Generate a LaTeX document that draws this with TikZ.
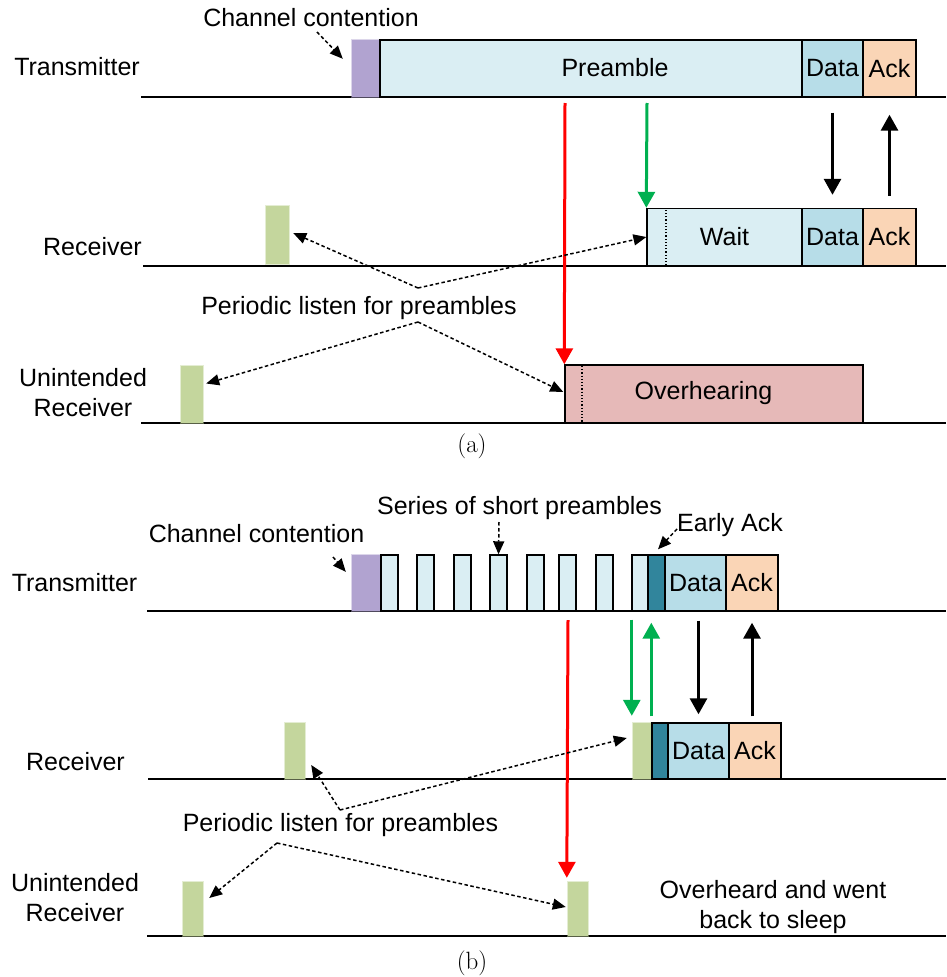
\documentclass[tikz,border=0pt]{standalone}
\usepackage{fontspec}
\setsansfont{Liberation Sans}
\usetikzlibrary{arrows.meta,calc}
\definecolor{ccpurple}{HTML}{B1A3D0}
\definecolor{prefill}{HTML}{DAEEF3}
\definecolor{datafill}{HTML}{B7DDE8}
\definecolor{ackfill}{HTML}{FAD5B6}
\definecolor{listen}{HTML}{C4D69D}
\definecolor{ovhfill}{HTML}{E6B9B8}
\definecolor{eackfill}{HTML}{31859C}
\definecolor{siggreen}{HTML}{00B050}
\definecolor{sigred}{HTML}{FF0000}
\tikzset{
  txt/.style={font=\sffamily\fontsize{25}{30}\selectfont, inner sep=0pt, align=center},
  captxt/.style={font=\rmfamily\fontsize{25}{28}\selectfont, inner sep=0pt},
  sz/.style 2 args={minimum width=#1pt, minimum height=#2pt},
  slot/.style={draw=black, line width=1.4pt, inner sep=0pt, anchor=center,
               font=\sffamily\fontsize{25}{30}\selectfont},
  soft/.style={fill=#1, draw=#1, draw opacity=0.45, line width=2.4pt, inner sep=0pt},
  timeline/.style={line width=1.8pt},
  sig/.style={line width=3pt, -{Triangle[length=16pt,width=17pt]}},
  hint/.style={line width=1.5pt, dash pattern=on 3.5pt off 2.5pt, -{Triangle[length=13pt,width=11pt]}},
}
\begin{document}
\begin{tikzpicture}[x=1pt,y=-1pt]
\useasboundingbox (0,0) rectangle (946,977);

%% ---------------- (a) long preamble ----------------
% timelines
\draw[timeline] (141,97) -- (946,97);
\draw[timeline] (143,266) -- (946,266);
\draw[timeline] (141,423) -- (946,423);

% row labels
\node[txt] (txA) at (77,67) {Transmitter};
\node[txt] (rxA) at (92.5,247) {Receiver};
\node[txt] (urA) at (83,393) {Unintended\\Receiver};

% transmitter
\node[soft=ccpurple, sz={28}{57}] (ccA) at (366,68.5) {};
\node[slot, fill=prefill, sz={422}{57}] (preA) at (591,68.5) {};
\node[txt] (preAt) at (615,68) {Preamble};
\node[slot, fill=datafill, sz={61}{57}] (datTA) at (832.5,68.5) {Data};
\node[slot, fill=ackfill, sz={53}{57}] (ackTA) at (889.5,68.5) {Ack};

% receiver
\node[soft=listen, sz={23}{58}] (lsnRA) at (277.5,235) {};
\node[slot, fill=prefill, sz={155}{57}] (waitA) at (724.5,237) {Wait};
\node[draw, dotted, line width=1.2pt, inner sep=0pt, sz={19}{57}] (wdotA) at (656.5,237) {};
\node[slot, fill=datafill, sz={61}{57}] (datRA) at (832.5,237) {Data};
\node[slot, fill=ackfill, sz={53}{57}] (ackRA) at (889.5,237) {Ack};

% unintended receiver
\node[soft=listen, sz={22}{57}] (lsnUA) at (192,394.5) {};
\node[slot, fill=ovhfill, sz={298}{58}] (ovhA) at (714,394) {};
\draw[dotted, line width=1.2pt] (582,366) -- (582,422);
\node[txt] (ovhAt) at (703.5,393) {Overhearing};

% signals
\coordinate (redA0) at (565,103);
\draw[sig, sigred] (redA0) -- (ovhA.north west);
\coordinate (grnA0) at (647,103);
\draw[sig, siggreen] (grnA0) -- (waitA.north west);
\draw[sig] ($(datTA.south)+(0,15)$) -- ($(datRA.north)+(0,-13)$);
\draw[sig] ($(ackRA.north)+(0,-12)$) -- ($(ackTA.south)+(0,17)$);

% annotations
\node[txt] (ccAt) at (311,18) {Channel contention};
\coordinate (ccA0) at (317,32);
\draw[hint] (ccA0) -- ($(ccA.north west)+(-8,20)$);

\node[txt] (perA) at (359,308) {Periodic listen for preambles};
\coordinate (jA1) at (418,288);
\coordinate (jA2) at (418,322);
\draw[hint] (jA1) -- ($(lsnRA.east)+(3,-2)$);
\draw[hint] (jA1) -- (wdotA.west);
\draw[hint] (jA2) -- ($(lsnUA.east)+(2,-11)$);
\draw[hint] (jA2) -- ($(ovhA.west)+(-1,-2)$);

\node[captxt] (capA) at (472,446) {(a)};

%% ---------------- (b) short preambles ----------------
\draw[timeline] (147,611) -- (946,611);
\draw[timeline] (148,779) -- (946,779);
\draw[timeline] (147,936) -- (946,936);

\node[txt] (txB) at (74.5,583) {Transmitter};
\node[txt] (rxB) at (75.5,762) {Receiver};
\node[txt] (urB) at (75,898) {Unintended\\Receiver};

% transmitter
\node[soft=ccpurple, sz={29}{56}] (ccB) at (366.5,583) {};
\foreach \xl [count=\i] in {381,417,454,490,527,559,596,632}
  \node[slot, fill=prefill, sz={17}{56}] (sp\i) at (\xl+8.5,583) {};
\node[slot, fill=eackfill, sz={17}{56}] (eackTB) at (656.5,583) {};
\node[slot, fill=datafill, sz={61}{56}] (datTB) at (695.5,583) {Data};
\node[slot, fill=ackfill, sz={52}{56}] (ackTB) at (752,583) {Ack};

% receiver
\node[soft=listen, sz={20}{56}] (lsnRB) at (295,751) {};
\node[soft=listen, sz={19}{56}] (lsn2RB) at (642.5,751) {};
\node[slot, fill=eackfill, sz={16}{56}] (eackRB) at (660,751) {};
\node[slot, fill=datafill, sz={61}{56}] (datRB) at (698.5,751) {Data};
\node[slot, fill=ackfill, sz={52}{56}] (ackRB) at (755,751) {Ack};

% unintended receiver
\node[soft=listen, sz={20}{54}] (lsnUB) at (193,909) {};
\node[soft=listen, sz={20}{54}] (lsn2UB) at (578,909) {};
\node[txt] (slpB) at (773,907) {Overheard and went\\back to sleep};

% signals
\coordinate (redB0) at (568,620);
\draw[sig, sigred] (redB0) -- ($(lsn2UB.north west)+(0,-3)$);
\draw[sig, siggreen] ($(lsn2RB.west |- sp8.south)+(0,8)$) -- ($(lsn2RB.north west)+(0,-6)$);
\draw[sig, siggreen] ($(eackRB.north west)+(0,-6)$) -- ($(eackRB.north west |- eackTB.south)+(0,11)$);
\draw[sig] ($(datRB.north |- datTB.south)+(0,9)$) -- ($(datRB.north)+(0,-8)$);
\draw[sig] ($(ackTB.south |- ackRB.north)+(0,-6)$) -- ($(ackTB.south)+(0,11)$);

% annotations
\node[txt] (ccBt) at (256.5,534) {Channel contention};
\coordinate (ccB0) at (333,557);
\draw[hint] (ccB0) -- ($(ccB.north west)+(-5,18)$);

\node[txt] (serBt) at (519.5,508) {Series of short preambles};
\coordinate (serB0) at (499,522);
\draw[hint] (serB0) -- (sp4.north);

\node[txt, anchor=west] (eackBt) at (677,525) {Early Ack};
\coordinate (eackB0) at (677,529);
\draw[hint] (eackB0) -- ($(eackTB.north)+(1.5,-5)$);

\node[txt] (perB) at (340.5,825) {Periodic listen for preambles};
\coordinate (jB1) at (340,810);
\coordinate (jB2) at (277,843);
\draw[hint] (jB1) -- ($(lsnRB.east)+(5,14)$);
\draw[hint] (jB1) -- ($(lsn2RB.west)+(-5,-13)$);
\draw[hint] (jB2) -- ($(lsnUB.east)+(5,-11)$);
\draw[hint] (jB2) -- ($(lsn2UB.west)+(-1,-2)$);

\node[captxt] (capB) at (472,963) {(b)};
\end{tikzpicture}
\end{document}
